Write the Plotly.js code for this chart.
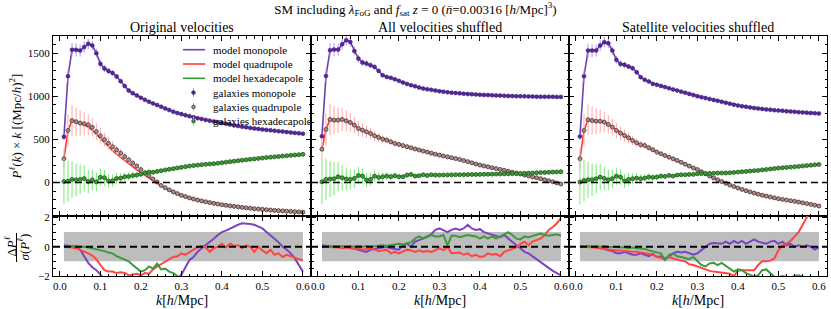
<!DOCTYPE html>
<html><head><meta charset="utf-8">
<script src="https://cdn.plot.ly/plotly-3.0.1.min.js"></script>
<style>html,body{margin:0;padding:0;background:#fff}#chart{width:831px;height:309px}</style>
</head><body><div id="chart"></div>
<script>
// ---------------- data ----------------
const k = [0.01,0.02,0.03,0.04,0.05,0.06,0.07,0.08,0.09,0.10,
           0.11,0.12,0.13,0.14,0.15,0.16,0.17,0.18,0.19,0.20,
           0.21,0.22,0.23,0.24,0.25,0.26,0.27,0.28,0.29,0.30,
           0.31,0.32,0.33,0.34,0.35,0.36,0.37,0.38,0.39,0.40,
           0.41,0.42,0.43,0.44,0.45,0.46,0.47,0.48,0.49,0.50,
           0.51,0.52,0.53,0.54,0.55,0.56,0.57,0.58,0.59,0.60];

const panelTitles = ["Original velocities", "All velocities shuffled", "Satellite velocities shuffled"];
const legendLabels = ["model monopole", "model quadrupole", "model hexadecapole",
                      "galaxies monopole", "galaxies quadrupole", "galaxies hexadecapole"];

// Original velocities
const monoOrig = [530,1234,1539,1539,1531,1571,1609,1590,1501,1377,
                  1323,1294,1271,1230,1176,1118,1067,1036,1009,982,
                  959,936,917,898,878,859,840,820,805,793,
                  781,769,757,746,736,726,717,708,698,689,
                  680,671,662,654,647,640,633,627,621,615,
                  610,605,600,595,590,585,580,575,570,565];
const quadOrig = [275,603,719,704,689,681,669,640,590,541,
                  497,455,415,378,340,300,262,225,190,150,
                  112,75,40,5,-35,-62,-87,-110,-130,-150,
                  -165,-180,-193,-205,-215,-225,-234,-243,-251,-259,
                  -266,-272,-278,-284,-290,-295,-300,-305,-309,-313,
                  -317,-321,-325,-328,-331,-334,-337,-340,-343,-346];
const quadOrigModel = [275,600,715,703,688,668,642,605,558,505,
                  455,410,368,328,290,252,215,180,145,112,
                  80,48,18,-10,-38,-64,-89,-112,-132,-152,
                  -167,-181,-194,-206,-216,-226,-235,-244,-252,-260,
                  -267,-273,-279,-285,-291,-296,-301,-305,-309,-313,
                  -317,-321,-325,-328,-331,-334,-337,-340,-343,-346];
const hexOrig = [10,15,35,30,35,45,10,30,5,60,
                 55,15,20,45,50,65,70,80,85,95,
                 110,120,118,128,135,145,152,160,168,175,
                 183,190,196,201,206,210,214,218,223,229,
                 235,241,246,252,258,263,268,273,278,283,
                 288,293,297,301,306,310,314,318,322,326];

// All velocities shuffled
const monoAll = [537,1237,1535,1542,1542,1604,1651,1631,1527,1438,
                 1392,1380,1361,1341,1295,1245,1225,1214,1198,1179,
                 1160,1144,1129,1117,1102,1090,1082,1075,1067,1059,
                 1053,1047,1042,1038,1034,1030,1027,1024,1021,1018,
                 1016,1014,1012,1010,1008,1006,1004,1002,1001,1000,
                 999,998,997,996,995,995,994,994,993,993];
const quadAll = [385,615,731,723,723,731,715,696,665,626,
                 607,588,568,541,522,503,491,472,452,441,
                 428,415,402,389,376,364,352,340,328,317,
                 307,297,287,277,267,254,241,228,214,201,
                 191,181,171,161,151,140,129,118,108,97,
                 86,75,64,54,43,31,19,7,-6,-19];
const hexAll = [8,35,39,43,66,54,39,35,46,81,
                73,27,35,73,58,66,73,66,77,66,
                66,85,93,73,77,89,81,89,85,85,
                86,87,88,89,90,90,91,92,92,93,
                94,95,96,97,98,99,100,101,102,104,
                106,108,110,112,114,116,118,120,122,124];

// Satellite velocities shuffled
const monoSat = [533,1233,1531,1531,1531,1589,1628,1616,1531,1423,
                 1376,1365,1345,1326,1280,1222,1191,1171,1144,1133,
                 1120,1107,1094,1080,1067,1054,1041,1028,1014,1001,
                 990,979,968,958,947,936,925,914,903,893,
                 885,878,871,864,858,853,848,844,839,835,
                 831,827,823,820,816,813,809,806,803,800];
const quadSat = [274,603,727,719,711,711,700,673,642,603,
                 572,545,518,487,460,437,429,402,379,352,
                 332,312,293,274,255,233,211,190,168,150,
                 125,100,75,52,30,10,-10,-30,-48,-65,
                 -81,-96,-110,-124,-137,-149,-159,-169,-179,-189,
                 -197,-205,-213,-220,-228,-237,-246,-255,-264,-274];
const hexSat = [4,23,31,31,43,62,46,31,43,73,
                62,15,35,43,50,43,50,62,58,62,
                73,70,81,73,85,89,89,93,93,100,
                102,104,105,107,108,109,110,112,116,120,
                124,128,132,136,139,145,150,155,161,166,
                170,174,178,182,186,191,195,200,204,209];

// error bars (sigma)
const errMono = [40,70,80,75,70,65,60,55,50,45,
                 40,36,32,29,26,24,22,20,18,16,
                 15,14,13,12,11,10,10,9,9,8,
                 8,8,7,7,7,6,6,6,6,5,
                 5,5,5,5,5,4,4,4,4,4,
                 4,4,4,4,4,4,4,4,4,4];
const errQuad = [120,190,180,165,150,135,120,108,97,87,
                 78,70,63,56,50,45,40,36,32,29,
                 26,23,21,19,17,16,15,14,13,12,
                 11,10,10,9,9,9,8,8,8,7,
                 7,7,7,6,6,6,6,6,5,5,
                 5,5,5,5,5,5,5,4,4,4];
const errHex = [260,240,210,190,170,150,135,120,110,100,
                90,80,72,65,58,52,47,42,38,34,
                31,28,25,23,21,19,17,16,15,14,
                13,12,12,11,11,10,10,9,9,9,
                8,8,8,7,7,7,7,6,6,6,
                6,6,5,5,5,5,5,5,5,5];

// residuals Delta P / sigma
const resMonoOrig = [0.1,0.05,0.05,0.0,-0.2,-0.7,-1.1,-1.4,-1.6,-1.9,
                     -2.3,-2.7,-3.0,-3.2,-3.4,-3.5,-3.6,-3.7,-3.6,-3.5,
                     -3.4,-3.3,-3.2,-3.1,-3.0,-2.9,-2.7,-2.5,-2.2,-1.9,
                     -1.4,-0.9,-0.7,-0.35,-0.1,0.1,0.35,0.55,0.8,1.0,
                     1.1,1.25,1.35,1.5,1.6,1.6,1.55,1.5,1.4,1.25,
                     1.0,0.8,0.55,0.3,0.0,-0.2,-0.45,-0.8,-1.25,-1.7];
const resQuadOrig = [0,0,-0.05,-0.1,-0.2,-0.3,-0.45,-0.6,-0.85,-1.25,
                     -1.6,-1.7,-1.7,-1.8,-1.75,-1.8,-1.95,-1.9,-1.85,-1.95,
                     -1.8,-1.85,-1.55,-1.35,-1.2,-1.0,-0.85,-0.7,-0.65,-0.45,
                     -0.55,-0.35,-0.2,-0.05,0.05,-0.05,-0.35,-0.1,0.0,0.2,
                     -0.05,0.2,0.05,0.1,-0.1,0.1,0.0,-0.35,0.0,-0.25,
                     -0.45,-0.2,-0.55,-0.45,-0.7,-0.55,-0.65,-0.7,-0.8,-0.95];
const resHexOrig = [0.05,0.05,0.0,0.05,0.0,0.0,-0.05,-0.1,-0.2,-0.25,
                    -0.3,-0.4,-0.45,-0.65,-0.75,-0.85,-1.0,-1.25,-1.5,-1.7,
                    -1.6,-1.35,-1.5,-1.15,-1.55,-1.5,-1.7,-1.8,-2.0,-2.3,
                    -2.6,-2.8,-3.0,-3.1,-3.2,-3.3,-3.3,-3.4,-3.4,-3.5,
                    -3.5,-3.5,-3.6,-3.6,-3.6,-3.6,-3.7,-3.7,-3.7,-3.7,
                    -3.7,-3.7,-3.8,-3.8,-3.8,-3.8,-3.8,-3.8,-3.8,-3.8];
const resMonoAll = [0.1,0.05,0.05,0.0,0.05,-0.05,0.0,-0.05,-0.1,-0.2,
                    -0.3,-0.35,-0.2,-0.15,-0.1,-0.05,0.0,-0.1,-0.15,-0.2,
                    0.1,0.2,0.0,0.35,0.45,0.55,0.7,0.85,1.15,1.25,
                    1.15,1.0,1.15,1.25,1.15,1.25,1.5,1.25,1.15,1.2,
                    1.0,0.9,0.8,0.7,0.65,0.8,0.55,0.35,0.1,-0.1,
                    -0.35,-0.45,-0.65,-0.85,-1.1,-1.25,-1.5,-1.65,-1.8,-1.95];
const resQuadAll = [0.0,0.0,-0.05,0.0,-0.05,-0.1,-0.05,-0.1,-0.15,-0.1,
                    -0.2,-0.15,-0.1,-0.2,-0.3,-0.25,-0.2,-0.45,-0.35,-0.45,
                    -0.35,-0.2,-0.25,-0.35,-0.25,-0.35,-0.3,-0.35,-0.25,-0.1,
                    -0.25,0.0,-0.45,-0.45,-0.4,-0.55,-0.45,-0.65,-0.55,-0.7,
                    -0.65,-0.45,-0.55,-0.5,-0.65,-0.35,-0.25,-0.1,-0.05,0.2,
                    0.35,0.1,0.35,0.45,0.55,0.8,1.15,1.35,1.6,1.95];
const resHexAll = [0.0,0.05,0.0,0.05,0.0,0.05,0.0,0.05,0.0,0.05,
                   0.0,0.05,0.0,0.05,0.05,0.1,0.05,0.1,0.15,0.2,
                   0.15,0.2,0.3,0.55,0.7,0.55,0.7,0.8,0.7,0.7,
                   0.8,0.1,0.75,0.75,0.65,0.7,0.8,0.75,0.7,0.55,
                   0.7,0.55,0.7,0.55,0.7,0.9,1.0,0.8,0.55,0.5,
                   0.7,0.65,0.75,0.8,0.9,0.8,0.75,0.8,0.85,0.75];
const resMonoSat = [0.05,0.0,0.05,0.0,0.0,-0.05,-0.15,-0.25,-0.3,-0.45,
                    -0.45,-0.35,-0.45,-0.55,-0.55,-0.45,-0.55,-0.65,-0.5,-0.7,
                    -0.65,-0.8,-0.7,-0.45,-0.35,-0.4,-0.35,-0.45,-0.55,-0.45,
                    -0.25,0.0,0.2,0.25,0.2,0.2,0.35,0.2,0.4,0.25,
                    0.4,0.2,0.35,0.5,0.35,0.25,0.2,0.35,0.4,0.2,
                    0.35,0.1,0.2,0.0,0.1,0.0,0.1,0.0,-0.2,-0.05];
const resQuadSat = [0.0,0.0,-0.05,-0.05,-0.05,-0.1,-0.15,-0.15,-0.2,-0.25,
                    -0.25,-0.3,-0.3,-0.35,-0.35,-0.4,-0.4,-0.45,-0.55,-0.7,
                    -0.75,-0.9,-0.7,-0.8,-0.9,-0.95,-1.0,-1.2,-1.25,-1.35,
                    -1.5,-1.6,-1.65,-1.7,-1.75,-1.8,-1.85,-1.85,-2.0,-1.65,
                    -1.6,-1.6,-1.55,-1.6,-1.25,-1.0,-1.0,-0.95,-0.8,-0.25,
                    0.1,0.2,0.4,0.7,1.0,1.5,1.95,2.5,3.0,3.5];
const resHexSat = [0.0,0.05,0.05,0.0,0.05,0.0,0.05,0.0,0.0,-0.05,
                   0.0,-0.05,-0.1,-0.05,-0.1,-0.1,-0.15,-0.25,-0.3,-0.35,
                   -0.45,-0.9,-0.55,-0.45,-0.65,-0.7,-0.75,-0.85,-0.7,-1.0,
                   -1.25,-1.35,-1.15,-1.1,-1.25,-1.1,-1.3,-1.5,-1.7,-1.55,
                   -1.6,-1.8,-1.95,-2.05,-1.95,-1.6,-1.55,-1.8,-2.05,-2.1,
                   -2.0,-2.05,-2.1,-2.0,-1.95,-2.05,-2.15,-2.1,-2.15,-2.1];

const xTickVals = [0.0,0.1,0.2,0.3,0.4,0.5,0.6];
const xTickText = ["0.0","0.1","0.2","0.3","0.4","0.5","0.6"];

// ---------------- styling ----------------
const FONT = '"Liberation Serif", "Times New Roman", "DejaVu Serif", serif';
const C = {
  monoLine:"#6d3fb3", monoMk:"#55289a", monoErr:"#b596e6",
  quadLine:"#ff3838", quadMkFill:"#9a9494", quadMkLine:"#5a2a2a", quadErr:"#ffa8a8",
  hexLine:"#3a9a34", hexMkFill:"#3f9a38", hexMkLine:"#1f5a1c", hexErr:"#7be87b",
  resMono:"#7a44c2", resQuad:"#ff4444", resHex:"#3d9a3d"
};
const MK = 4;

function panel(idx, mono, quad, quadModel, hex, rm, rq, rh) {
  const xa = idx === 0 ? "x" : "x" + (idx + 1);
  const ya = idx === 0 ? "y" : "y" + (idx + 1);
  const xb = "x" + (idx + 4), yb = "y" + (idx + 4);
  const T = [];
  T.push({x:k, y:mono, xaxis:xa, yaxis:ya, mode:"lines", name:legendLabels[0], showlegend:false,
          line:{color:C.monoLine, width:1.6}});
  T.push({x:k, y:quadModel, xaxis:xa, yaxis:ya, mode:"lines", name:legendLabels[1], showlegend:false,
          line:{color:C.quadLine, width:1.6}});
  T.push({x:k, y:hex, xaxis:xa, yaxis:ya, mode:"lines", name:legendLabels[2], showlegend:false,
          line:{color:C.hexLine, width:1.6}});
  T.push({x:k, y:mono, xaxis:xa, yaxis:ya, mode:"markers", name:legendLabels[3], showlegend:false,
          marker:{color:C.monoMk, size:MK, line:{color:"#3d1a70", width:0.5}},
          error_y:{type:"data", array:errMono, visible:true, color:C.monoErr, thickness:1, width:0}});
  T.push({x:k, y:quad, xaxis:xa, yaxis:ya, mode:"markers", name:legendLabels[4], showlegend:false,
          marker:{color:C.quadMkFill, size:MK, line:{color:C.quadMkLine, width:0.8}},
          error_y:{type:"data", array:errQuad, visible:true, color:C.quadErr, thickness:1, width:0}});
  T.push({x:k, y:hex, xaxis:xa, yaxis:ya, mode:"markers", name:legendLabels[5], showlegend:false,
          marker:{color:C.hexMkFill, size:MK, line:{color:C.hexMkLine, width:0.8}},
          error_y:{type:"data", array:errHex, visible:true, color:C.hexErr, thickness:1, width:0}});
  T.push({x:k, y:rm, xaxis:xb, yaxis:yb, mode:"lines", showlegend:false, name:"residual monopole",
          line:{color:C.resMono, width:2}});
  T.push({x:k, y:rq, xaxis:xb, yaxis:yb, mode:"lines", showlegend:false, name:"residual quadrupole",
          line:{color:C.resQuad, width:2}});
  T.push({x:k, y:rh, xaxis:xb, yaxis:yb, mode:"lines", showlegend:false, name:"residual hexadecapole",
          line:{color:C.resHex, width:2}});
  return T;
}

const data = [].concat(
  panel(0, monoOrig, quadOrig, quadOrigModel, hexOrig, resMonoOrig, resQuadOrig, resHexOrig),
  panel(1, monoAll, quadAll, quadAll, hexAll, resMonoAll, resQuadAll, resHexAll),
  panel(2, monoSat, quadSat, quadSat, hexSat, resMonoSat, resQuadSat, resHexSat)
);

// ---------------- layout ----------------
const W = 831, H = 309, ML = 53, MR = 4, MT = 36, MB = 33;
const PW = W - ML - MR, PH = H - MT - MB;
const px = v => (v - ML) / PW;       // pixel -> paper x
const py = v => (H - MB - v) / PH;   // pixel -> paper y

const doms = [[0, 1/3], [1/3, 2/3], [2/3, 1]];
const tickFont = {family:FONT, size:11, color:"#000"};
function xAxis(i, bottom) {
  const a = {
    domain:doms[i], anchor: bottom ? "y" + (i + 4) : (i === 0 ? "y" : "y" + (i + 1)),
    range:[-0.017, 0.62], showgrid:false, zeroline:false,
    showline:true, linecolor:"#000", linewidth:1, mirror:"allticks",
    ticks:"inside", ticklen:5, tickwidth:1, tickcolor:"#000",
    tickmode:"array", tickvals:xTickVals, ticktext:xTickText,
    minor:{dtick:0.02, tick0:0, ticks:"inside", ticklen:2.5, tickcolor:"#000"},
    showticklabels: bottom, tickfont:tickFont
  };
  if (bottom) a.title = {text:"<i>k</i>[<i>h</i>/Mpc]", font:{family:FONT, size:14, color:"#000"}, standoff:3};
  return a;
}
function yAxis(i, bottom) {
  const idx = bottom ? i + 4 : i + 1;
  const a = {
    domain: bottom ? [0, 0.25] : [0.25, 1],
    anchor: idx <= 3 ? (i === 0 ? "x" : "x" + (i + 1)) : "x" + idx,
    range: bottom ? [-2, 2.1] : [-390, 1700],
    dtick: bottom ? 2 : 500, tick0:0,
    showgrid:false, zeroline:false,
    showline:true, linecolor:"#000", linewidth:1, mirror:"allticks",
    ticks:"inside", ticklen:5, tickwidth:1, tickcolor:"#000",
    minor:{dtick: bottom ? 0.5 : 100, ticks:"inside", ticklen:2.5, tickcolor:"#000"},
    showticklabels: i === 0, tickfont:tickFont
  };
  if (i === 0 && !bottom) a.title = {text:"<i>P</i><sup><i>ℓ</i></sup>(<i>k</i>) × <i>k</i> [(Mpc/<i>h</i>)<sup>2</sup>]",
                                     font:{family:FONT, size:13, color:"#000"}, standoff:3};
  return a;
}

const shapes = [];
for (let i = 0; i < 3; i++) {
  const xb = "x" + (i + 4), yb = "y" + (i + 4);
  const xt = i === 0 ? "x" : "x" + (i + 1), yt = i === 0 ? "y" : "y" + (i + 1);
  shapes.push({type:"rect", xref:xb, yref:yb, x0:k[0], x1:k[k.length - 1], y0:-1, y1:1,
               fillcolor:"#bdbdbd", line:{width:0}, layer:"below"});
  shapes.push({type:"line", xref:xb + " domain", yref:yb, x0:0, x1:1, y0:0, y1:0,
               line:{color:"#000", width:2, dash:"7px,4px"}, layer:"above"});
  shapes.push({type:"line", xref:xt + " domain", yref:yt, x0:0, x1:1, y0:0, y1:0,
               line:{color:"#000", width:1.5, dash:"7px,4px"}, layer:"above"});
}
// fraction bar for the residual y-title
shapes.push({type:"line", xref:"paper", yref:"paper", x0:px(16.5), x1:px(16.5), y0:py(262), y1:py(233),
             line:{color:"#000", width:1}});

const annotations = panelTitles.map((t, i) => ({
  text:t, xref:"paper", yref:"paper", x:(doms[i][0] + doms[i][1]) / 2, y:1,
  xanchor:"center", yanchor:"bottom", yshift:-1, showarrow:false,
  font:{family:FONT, size:14, color:"#000"}
}));
annotations.push({text:"Δ<i>P</i><sup><i>ℓ</i></sup>", xref:"paper", yref:"paper", x:px(10.5), y:py(247),
                  textangle:-90, showarrow:false, xanchor:"center", yanchor:"middle",
                  font:{family:FONT, size:13, color:"#000"}});
annotations.push({text:"<i>σ</i>(<i>P</i><sup><i>ℓ</i></sup>)", xref:"paper", yref:"paper", x:px(23.5), y:py(247),
                  textangle:-90, showarrow:false, xanchor:"center", yanchor:"middle",
                  font:{family:FONT, size:13, color:"#000"}});

// legend drawn inside the first panel (matplotlib-like compact spacing)
const legColors = [C.monoLine, C.quadLine, C.hexLine];
const mkStyle = [[C.monoMk, "#3d1a70", C.monoErr], [C.quadMkFill, C.quadMkLine, C.quadErr], [C.hexMkFill, C.hexMkLine, C.hexErr]];
legendLabels.forEach((lab, j) => {
  const yc = 49.7 + j * 14.3;
  if (j < 3) {
    shapes.push({type:"line", xref:"paper", yref:"paper", x0:px(183), x1:px(205), y0:py(yc), y1:py(yc),
                 line:{color:legColors[j], width:1.6}});
  } else {
    const s = mkStyle[j - 3];
    shapes.push({type:"line", xref:"paper", yref:"paper", x0:px(193.5), x1:px(193.5), y0:py(yc + 4.5), y1:py(yc - 4.5),
                 line:{color:s[2], width:1}});
    shapes.push({type:"circle", xref:"paper", yref:"paper", x0:px(191.7), x1:px(195.3), y0:py(yc + 1.8), y1:py(yc - 1.8),
                 fillcolor:s[0], line:{color:s[1], width:0.8}});
  }
  annotations.push({text:lab, xref:"paper", yref:"paper", x:px(210.5), y:py(yc), xanchor:"left", yanchor:"middle",
                    showarrow:false, font:{family:FONT, size:11, color:"#000"}});
});

const layout = {
  width:W, height:H,
  margin:{l:ML, r:MR, t:MT, b:MB},
  paper_bgcolor:"#fff", plot_bgcolor:"#fff",
  font:{family:FONT, color:"#000"},
  title:{text:"SM including <i>λ</i><sub>FoG</sub> and <i>f</i><sub>sat</sub> <i>z</i> = 0 (<i>n̄</i>=0.00316 [<i>h</i>/Mpc]<sup>3</sup>)",
         x:0.5, xref:"container", xanchor:"center", y:0.971, yref:"container", yanchor:"middle",
         font:{family:FONT, size:13, color:"#000"}},
  showlegend:false,
  xaxis:xAxis(0,false), xaxis2:xAxis(1,false), xaxis3:xAxis(2,false),
  xaxis4:xAxis(0,true), xaxis5:xAxis(1,true), xaxis6:xAxis(2,true),
  yaxis:yAxis(0,false), yaxis2:yAxis(1,false), yaxis3:yAxis(2,false),
  yaxis4:yAxis(0,true), yaxis5:yAxis(1,true), yaxis6:yAxis(2,true),
  shapes:shapes, annotations:annotations
};

Plotly.newPlot("chart", data, layout, {displayModeBar:false, staticPlot:true});
</script></body></html>
